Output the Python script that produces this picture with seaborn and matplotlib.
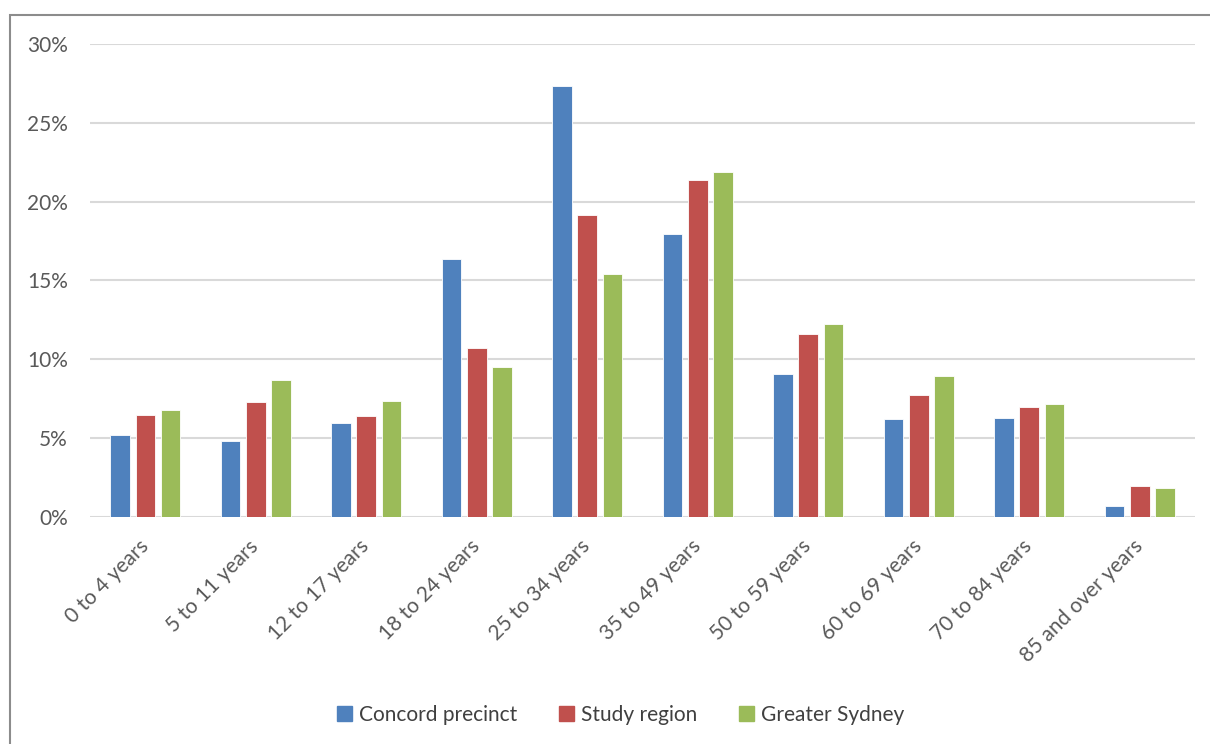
import matplotlib
matplotlib.use("Agg")
import matplotlib.pyplot as plt
from matplotlib.patches import Rectangle
from matplotlib.ticker import FuncFormatter, MultipleLocator
import seaborn as sns
import pandas as pd

# Age groups and share of population (%) for each area
age_groups = ["0 to 4 years", "5 to 11 years", "12 to 17 years", "18 to 24 years",
              "25 to 34 years", "35 to 49 years", "50 to 59 years", "60 to 69 years",
              "70 to 84 years", "85 and over years"]
concord_precinct = [5.18, 4.85, 5.99, 16.34, 27.33, 17.94, 9.09, 6.20, 6.25, 0.68]
study_region = [6.49, 7.32, 6.42, 10.73, 19.14, 21.39, 11.58, 7.76, 6.99, 1.94]
greater_sydney = [6.77, 8.67, 7.38, 9.50, 15.38, 21.87, 12.21, 8.96, 7.14, 1.81]
series_names = ["Concord precinct", "Study region", "Greater Sydney"]
series_colors = ["#4F81BD", "#C0504D", "#9BBB59"]

rows = []
for name, vals in zip(series_names, [concord_precinct, study_region, greater_sydney]):
    for grp, v in zip(age_groups, vals):
        rows.append({"Age": grp, "Area": name, "Share": v})
df = pd.DataFrame(rows)

sns.set_theme(style="white")
plt.rcParams["font.family"] = ["Lato", "DejaVu Sans"]

fig = plt.figure(figsize=(12.1, 7.44), dpi=100)
ax = fig.add_axes([0.0744, 0.3051, 0.9132, 0.6358])

# outer chart frame
fig.patches.append(Rectangle((10 / 1210, -0.05), 1.2, (744 - 15) / 744 + 0.05,
                             transform=fig.transFigure, fill=False,
                             edgecolor="#8C8C8C", linewidth=1.5, zorder=0))

sns.barplot(data=df, x="Age", y="Share", hue="Area", order=age_groups,
            hue_order=series_names, palette=series_colors, width=0.68, gap=0.22,
            edgecolor="white", linewidth=0.6, saturation=1, ax=ax, zorder=3)

ax.set_ylim(0, 30)
ax.set_xlim(-0.5, len(age_groups) - 0.5)
ax.yaxis.set_major_locator(MultipleLocator(5))
ax.yaxis.set_major_formatter(FuncFormatter(lambda v, p: f"{v:.0f}%"))
ax.grid(axis="y", color="#D9D9D9", linewidth=1.5, zorder=0)
ax.set_axisbelow(True)
for s in ax.spines.values():
    s.set_visible(False)
ax.set_xlabel("")
ax.set_ylabel("")
ax.tick_params(axis="y", length=0, pad=16, labelsize=15, labelcolor="#595959")
ax.tick_params(axis="x", length=0, pad=19, labelsize=15, labelcolor="#595959")
for lab in ax.get_xticklabels():
    lab.set_rotation(45)
    lab.set_ha("right")
    lab.set_va("center")
    lab.set_rotation_mode("anchor")

ax.get_legend().remove()
handles = [Rectangle((0, 0), 1, 1, color=c) for c in series_colors]
fig.legend(handles, series_names, loc="center", bbox_to_anchor=(0.513, 0.039),
           ncol=3, frameon=False, fontsize=15, labelcolor="#404040",
           handlelength=0.7, handleheight=0.7, handletextpad=0.35, columnspacing=2.0)

fig.savefig("out.png", dpi=100)
